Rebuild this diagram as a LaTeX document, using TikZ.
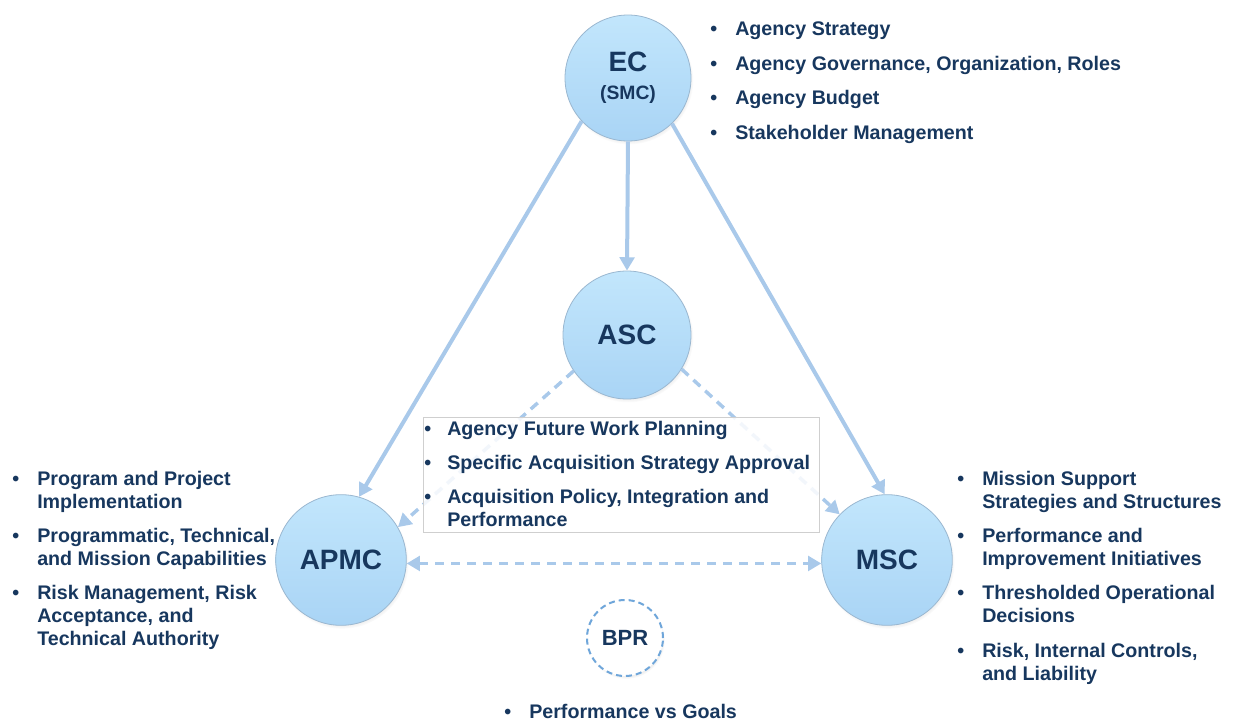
\documentclass[tikz,border=0pt]{standalone}
\usepackage{fontspec}
\setmainfont{Liberation Sans}
\usetikzlibrary{arrows.meta,shadows}
\definecolor{navy}{HTML}{17375E}
\definecolor{linkc}{HTML}{A9C9EA}
\definecolor{rimc}{HTML}{9AB7D0}
\definecolor{hubtop}{HTML}{C2E6FC}
\definecolor{hubbot}{HTML}{A9D4F5}
\definecolor{bprc}{HTML}{6FA6DA}
\definecolor{framec}{HTML}{CFCFCF}
\newcommand{\bul}{\textbullet}
\newcommand{\gap}{\\[8.6pt]}

\begin{document}
\begin{tikzpicture}[x=0.75pt,y=-0.75pt,
  hub/.style={circle, draw=rimc, line width=0.6pt, top color=hubtop, bottom color=hubbot,
    text=navy, inner sep=0pt, align=center, font=\fontsize{21}{24}\selectfont\bfseries,
    circular drop shadow={shadow xshift=0.8pt, shadow yshift=-1.6pt, shadow scale=1.02, opacity=0.3}},
  link/.style={draw=linkc, line width=3pt, -{Triangle[length=10pt,width=11pt]}},
  dlink/.style={link, line width=2.6pt, dash pattern=on 7pt off 5pt},
  list/.style={anchor=base west, inner sep=0pt, text=navy, font=\fontsize{14.75}{17.25}\selectfont\bfseries},
]
\useasboundingbox (0,0) rectangle (1233,721);

% committees
\node[hub, minimum size=94.5pt] (ec) at (628,78)
  {EC\\[-3pt]{\fontsize{14.5}{17}\selectfont(SMC)}};
\node[hub, minimum size=96pt] (asc) at (627,335) {ASC};
\node[hub, minimum size=98pt] (apmc) at (341,560) {APMC};
\node[hub, minimum size=98pt] (msc) at (887,560) {MSC};
\node[circle, draw=bprc, line width=1.5pt, dash pattern=on 4.5pt off 3pt, fill=white,
  minimum size=57pt, inner sep=0pt, text=navy, font=\fontsize{16.5}{19}\selectfont\bfseries,
  circular drop shadow={shadow xshift=0.8pt, shadow yshift=-1.6pt, shadow scale=1.02, opacity=0.25}]
  (bpr) at (625,638) {BPR};

% reporting lines
\draw[link] (ec.south) -- (asc.north);
\draw[link] (ec.223) -- (apmc.74);
\draw[link] (ec.314) -- (msc.92);
\draw[dlink] (asc.214) -- (apmc.30);
\draw[dlink] (asc.328) -- (msc.136);
\draw[dlink, {Triangle[length=10pt,width=11pt]}-{Triangle[length=10pt,width=11pt]}] (apmc.357) -- (msc.183);

% acquisition box
\node[draw=framec, line width=0.6pt, fill=white, fill opacity=0.85,
  minimum width=297pt, minimum height=86.25pt, inner sep=0pt] (acq) at (621,474.5) {};

% responsibilities
\node[list] (eclist) at (710,36) {\begin{tabular}[t]{@{}p{18.75pt}@{}l@{}}
\bul & Agency Strategy\gap
\bul & Agency Governance, Organization, Roles\gap
\bul & Agency Budget\gap
\bul & Stakeholder Management
\end{tabular}};

\node[list] (asclist) at (424,435) {\begin{tabular}[t]{@{}p{17.25pt}@{}l@{}}
\bul & Agency Future Work Planning\gap
\bul & Specific Acquisition Strategy Approval\gap
\bul & Acquisition Policy, Integration and\\
     & Performance
\end{tabular}};

\node[list] (apmclist) at (12,485) {\begin{tabular}[t]{@{}p{18.75pt}@{}l@{}}
\bul & Program and Project\\
     & Implementation\gap
\bul & Programmatic, Technical,\\
     & and Mission Capabilities\gap
\bul & Risk Management, Risk\\
     & Acceptance, and\\
     & Technical Authority
\end{tabular}};

\node[list] (msclist) at (957,485) {\begin{tabular}[t]{@{}p{18.75pt}@{}l@{}}
\bul & Mission Support\\
     & Strategies and Structures\gap
\bul & Performance and\\
     & Improvement Initiatives\gap
\bul & Thresholded Operational\\
     & Decisions\gap
\bul & Risk, Internal Controls,\\
     & and Liability
\end{tabular}};

\node[list] (bprlist) at (504,718) {\begin{tabular}[t]{@{}p{18.75pt}@{}l@{}}
\bul & Performance vs Goals
\end{tabular}};
\end{tikzpicture}
\end{document}
